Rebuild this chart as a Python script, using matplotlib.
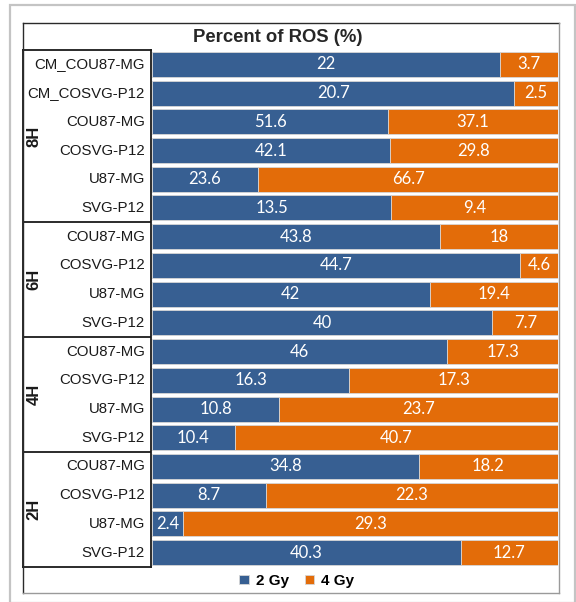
#!/usr/bin/env python3
"""100% stacked horizontal bars: percent of ROS by time point and cell line."""
import matplotlib
matplotlib.use("Agg")
import matplotlib.pyplot as plt
from matplotlib.lines import Line2D
from matplotlib.patches import Rectangle

groups = ["8H", "6H", "4H", "2H"]
cells = [
    ["CM_COU87-MG", "CM_COSVG-P12", "COU87-MG", "COSVG-P12", "U87-MG", "SVG-P12"],
    ["COU87-MG", "COSVG-P12", "U87-MG", "SVG-P12"],
    ["COU87-MG", "COSVG-P12", "U87-MG", "SVG-P12"],
    ["COU87-MG", "COSVG-P12", "U87-MG", "SVG-P12"],
]
gy2 = [22, 20.7, 51.6, 42.1, 23.6, 13.5,
       43.8, 44.7, 42, 40,
       46, 16.3, 10.8, 10.4,
       34.8, 8.7, 2.4, 40.3]
gy4 = [3.7, 2.5, 37.1, 29.8, 66.7, 9.4,
       18, 4.6, 19.4, 7.7,
       17.3, 17.3, 23.7, 40.7,
       18.2, 22.3, 29.3, 12.7]

BLUE = "#375f92"
ORANGE = "#e36c09"
W, H = 576, 602


def fx(px):
    return px / W


def fy(py):
    return 1 - py / H


fig = plt.figure(figsize=(W / 100, H / 100), dpi=100, facecolor="white")

# outer light frame and inner chart frame
fig.patches.append(Rectangle((fx(10), fy(603)), fx(575) - fx(10), fy(5) - fy(603),
                             transform=fig.transFigure, fill=False,
                             edgecolor="#c4c4c4", linewidth=1.6))
for xs, ys, c in [((23, 559), (23, 23), "#2a2a2a"), ((23, 23), (23, 593), "#2a2a2a"),
                  ((559, 559), (23, 593), "#9a9a9a"), ((23, 559), (593, 593), "#9a9a9a")]:
    fig.add_artist(Line2D([fx(xs[0]), fx(xs[1])], [fy(ys[0]), fy(ys[1])],
                          transform=fig.transFigure, color=c, linewidth=1.0))

top, bottom = 50, 567
ax = fig.add_axes([fx(152), fy(bottom), fx(558) - fx(152), fy(top) - fy(bottom)])
lab = fig.add_axes([fx(23), fy(bottom), fx(151) - fx(23), fy(top) - fy(bottom)])

n = len(gy2)
ypos = list(range(n))
p2 = [a / (a + b) * 100 for a, b in zip(gy2, gy4)]
p4 = [b / (a + b) * 100 for a, b in zip(gy2, gy4)]

b1 = ax.barh(ypos, p2, height=0.87, color=BLUE, edgecolor="#d6d6d6", linewidth=0.6, label="2 Gy")
b2 = ax.barh(ypos, p4, left=p2, height=0.87, color=ORANGE, edgecolor="#d6d6d6", linewidth=0.6, label="4 Gy")
ax.bar_label(b1, labels=[f"{v:g}" for v in gy2], label_type="center", color="white",
             fontsize=12, family="Lato")
ax.bar_label(b2, labels=[f"{v:g}" for v in gy4], label_type="center", color="white",
             fontsize=12, family="Lato")
ax.set_xlim(0, 100)
ax.set_ylim(n - 0.5, -0.5)
ax.axis("off")

# label table on the left
lab.set_xlim(0, 128)
lab.set_ylim(n - 0.5, -0.5)
lab.set_xticks([])
lab.set_yticks([])
for s in lab.spines.values():
    s.set_color("#1a1a1a")
    s.set_linewidth(1.3)
row = 0
for g, names in zip(groups, cells):
    for name in names:
        lab.text(122, row, name, ha="right", va="center", fontsize=10.8,
                 family="Liberation Sans", color="#1a1a1a")
        row += 1
    mid = row - len(names) / 2 - 0.5
    lab.text(11, mid, g, ha="center", va="center", rotation=90, fontsize=12,
             fontweight="bold", family="Liberation Sans", color="#1a1a1a")
    if row < n:
        lab.axhline(row - 0.5, color="#1a1a1a", linewidth=1.3)

fig.text(fx(278), fy(37), "Percent of ROS (%)", ha="center", va="center",
         fontsize=13.3, fontweight="bold", family="Liberation Sans", color="#262626")

fig.legend(handles=[b1, b2], loc="center", bbox_to_anchor=(fx(297), fy(581)), ncol=2,
           frameon=False, handlelength=0.6, handleheight=0.6, handletextpad=0.5,
           columnspacing=1.0, prop={"family": "Liberation Sans", "weight": "bold", "size": 11})

fig.savefig("out.png", dpi=100, facecolor="white")
